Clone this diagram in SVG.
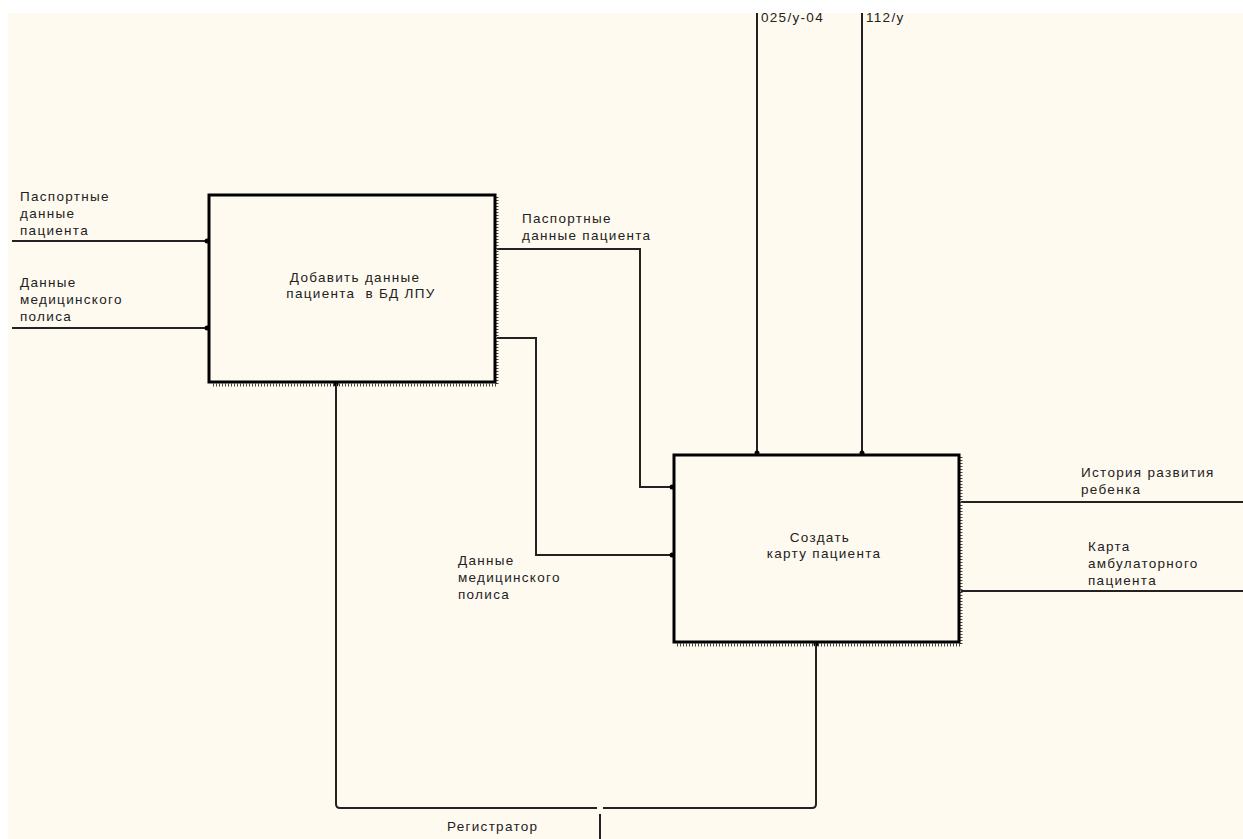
<svg xmlns="http://www.w3.org/2000/svg" width="1243" height="839" viewBox="0 0 1243 839">
<defs>
<style>
.t{font-family:"Liberation Sans",Arial,sans-serif;font-size:13.5px;fill:#222;letter-spacing:1.3px}
.c{text-anchor:middle}
.ln{fill:none;stroke:#222;stroke-width:2}
.box{fill:#FFFAF0;stroke:#000;stroke-width:3}
.sh{fill:none;stroke:#444;stroke-width:3;stroke-dasharray:1 2}
</style>
<marker id="dot" viewBox="0 0 6 6" refX="3" refY="3" markerWidth="6" markerHeight="6" markerUnits="userSpaceOnUse">
<circle cx="3" cy="3" r="2.5" fill="#000"/>
</marker>
</defs>
<rect width="1243" height="839" fill="#fff"/>
<rect x="8" y="13" width="1235" height="826" fill="#FFFAF0"/>

<g id="connectors">
<path class="ln" d="M12 241 H207" marker-end="url(#dot)"/>
<path class="ln" d="M12 328 H207" marker-end="url(#dot)"/>
<path class="ln" d="M497 249 H640 V487 H672" marker-end="url(#dot)"/>
<path class="ln" d="M497 338 H536 V555 H672" marker-end="url(#dot)"/>
<path class="ln" d="M757 13 V453" marker-end="url(#dot)"/>
<path class="ln" d="M862 13 V453" marker-end="url(#dot)"/>
<path class="ln" d="M961 502 H1243"/>
<path class="ln" d="M961 591 H1243"/>
<path class="ln" d="M600 839 V814"/>
<path class="ln" d="M597 808 H340 Q336 808 336 804 V384" marker-end="url(#dot)"/>
<path class="ln" d="M603 808 H812 Q816 808 816 804 V644" marker-end="url(#dot)"/>
</g>

<g id="labels">
<text class="t" x="20" y="201">Паспортные</text>
<text class="t" x="20" y="218">данные</text>
<text class="t" x="20" y="235">пациента</text>
<text class="t" x="20" y="287">Данные</text>
<text class="t" x="20" y="304">медицинского</text>
<text class="t" x="20" y="321">полиса</text>
<text class="t" x="522" y="223">Паспортные</text>
<text class="t" x="522" y="240">данные пациента</text>
<text class="t" x="458" y="565">Данные</text>
<text class="t" x="458" y="582">медицинского</text>
<text class="t" x="458" y="599">полиса</text>
<text class="t" x="761" y="22">025/у-04</text>
<text class="t" x="866" y="22">112/у</text>
<text class="t" x="1081" y="477">История развития</text>
<text class="t" x="1081" y="494">ребенка</text>
<text class="t" x="1088" y="551">Карта</text>
<text class="t" x="1088" y="568">амбулаторного</text>
<text class="t" x="1088" y="585">пациента</text>
<text class="t" x="447" y="831">Регистратор</text>
</g>

<g id="node1">
<path class="sh" d="M497 197 V385 H212"/>
<rect class="box" x="209" y="195" width="286" height="187"/>
<text class="t c" x="355" y="282">Добавить данные</text>
<text class="t c" x="361" y="298" xml:space="preserve">пациента  в БД ЛПУ</text>
</g>

<g id="node2">
<path class="sh" d="M961 457 V645 H677"/>
<rect class="box" x="674" y="455" width="285" height="187"/>
<text class="t c" x="820" y="542">Создать</text>
<text class="t c" x="824" y="558">карту пациента</text>
</g>
</svg>
